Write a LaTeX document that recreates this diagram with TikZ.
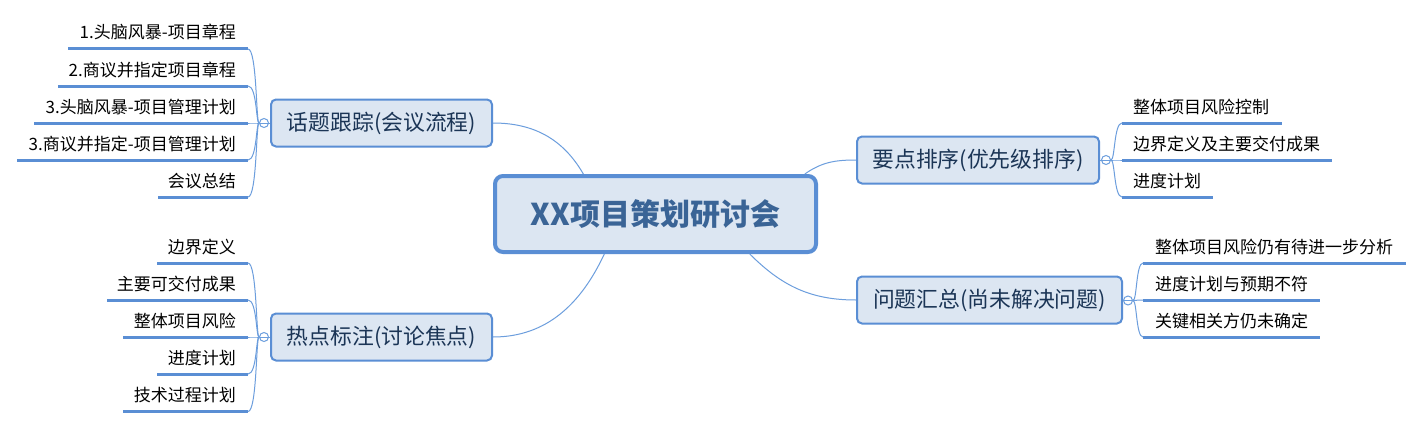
\documentclass[tikz,border=0pt]{standalone}
\usepackage{fontspec}
\setmainfont{Noto Sans CJK SC}
\definecolor{boxfill}{HTML}{DCE6F2}
\definecolor{boxline}{HTML}{5A8ED4}
\definecolor{conn}{HTML}{6C9EDD}
\definecolor{navy}{HTML}{1B3556}
\definecolor{maintext}{HTML}{3A6496}
\begin{document}
\begin{tikzpicture}[x=1pt,y=-1pt,
 mainbox/.style={draw=boxline, line width=4pt, fill=boxfill, rounded corners=8pt, minimum width=321pt, minimum height=76pt, inner sep=0pt, font=\fontsize{30}{34}\selectfont\bfseries, text=maintext},
 topic/.style={draw=boxline, line width=2pt, fill=boxfill, rounded corners=5pt, minimum height=47pt, inner sep=0pt, font=\fontsize{21.8}{25}\selectfont, text=navy},
 leaf/.style={inner sep=0pt, font=\fontsize{17}{20}\selectfont, text=black},
 uline/.style={draw=boxline, line width=3pt},
 link/.style={draw=conn, line width=1pt},
 knob/.style={circle, draw=conn, fill=white, line width=1pt, minimum size=9pt, inner sep=0pt},
]
\useasboundingbox (0,0) rectangle (1423,428);
\fill[white] (0,0) rectangle (1423,428);

\node[mainbox] (main) at (655.5,214) {XX项目策划研讨会};
\node[topic, minimum width=221pt] (A) at (381.5,123) {话题跟踪(会议流程)};
\node[topic, minimum width=221pt] (B) at (381.5,337) {热点标注(讨论焦点)};
\node[topic, minimum width=242pt] (C) at (978,160) {要点排序(优先级排序)};
\node[topic, minimum width=265pt] (D) at (989.5,300) {问题汇总(尚未解决问题)};

\draw[link] (A.east) to[out=0,in=120] (main.151);
\draw[link] (B.east) to[out=0,in=-115] (main.218);
\draw[link] (C.west) to[out=180,in=35] (main.15);
\draw[link] (D.west) to[out=180,in=-45] (main.-23);

\node[knob] (ka) at (264,123) {};
\node[knob] (kb) at (264,337) {};
\node[knob] (kc) at (1106,160) {};
\node[knob] (kd) at (1128,300.5) {};
\draw[link] (A.west) -- (ka.east);
\draw[link] (B.west) -- (kb.east);
\draw[link] (C.east) -- (kc.west);
\draw[link] (D.east) -- (kd.west);
\draw[link] (ka.west) -- (ka.east);
\draw[link] (kb.west) -- (kb.east);
\draw[link] (kc.west) -- (kc.east);
\draw[link] (kd.west) -- (kd.east);

% left top leaves
\foreach \i/\y/\xl/\t in {1/49/68/1.头脑风暴-项目章程, 2/86/58/2.商议并指定项目章程, 3/123/34/3.头脑风暴-项目管理计划, 4/160/17/3.商议并指定-项目管理计划, 5/197/158/会议总结} {
  \coordinate (ar\i) at (248,\y);
  \coordinate (al\i) at (\xl,\y);
  \node[leaf, anchor=base east] (a\i) at (236,\y-10) {\t};
  \draw[uline] (al\i) -- (ar\i);
  \draw[link] (ka.west) .. controls +(-3,0) and +(9,0) .. (ar\i);
}
% left bottom leaves
\foreach \i/\y/\xl/\t in {1/263/157/边界定义, 2/300/107/主要可交付成果, 3/337/123/整体项目风险, 4/374/157/进度计划, 5/411.5/123/技术过程计划} {
  \coordinate (br\i) at (248,\y);
  \coordinate (bl\i) at (\xl,\y);
  \node[leaf, anchor=base east] (b\i) at (236,\y-10) {\t};
  \draw[uline] (bl\i) -- (br\i);
  \draw[link] (kb.west) .. controls +(-3,0) and +(9,0) .. (br\i);
}
% right top leaves
\foreach \i/\y/\xr/\t in {1/123/1282/整体项目风险控制, 2/160/1332/边界定义及主要交付成果, 3/197/1213/进度计划} {
  \coordinate (cl\i) at (1122,\y);
  \coordinate (cr\i) at (\xr,\y);
  \node[leaf, anchor=base west] (c\i) at (1133,\y-10) {\t};
  \draw[uline] (cl\i) -- (cr\i);
  \draw[link] (kc.east) .. controls +(4,0) and +(-8,0) .. (cl\i);
}
% right bottom leaves
\foreach \i/\y/\xr/\t in {1/263/1406/整体项目风险仍有待进一步分析, 2/300/1320/进度计划与预期不符, 3/337/1320/关键相关方仍未确定} {
  \coordinate (dl\i) at (1143,\y);
  \coordinate (dr\i) at (\xr,\y);
  \node[leaf, anchor=base west] (d\i) at (1155,\y-10) {\t};
  \draw[uline] (dl\i) -- (dr\i);
  \draw[link] (kd.east) .. controls +(4,0) and +(-7,0) .. (dl\i);
}
\end{tikzpicture}
\end{document}
